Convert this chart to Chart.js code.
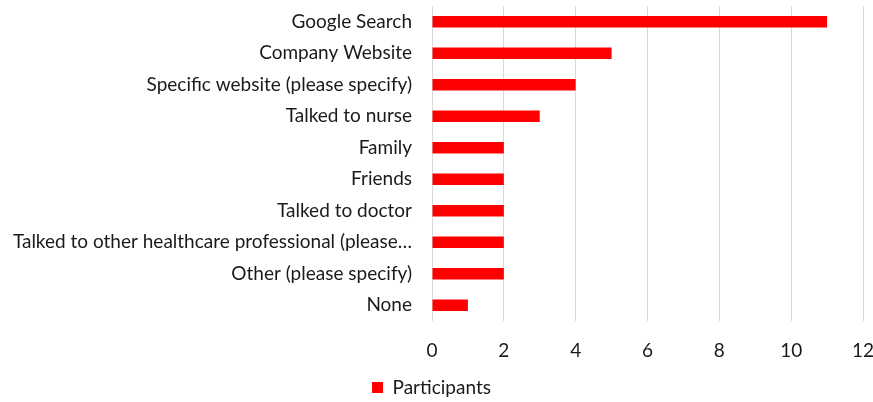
<!DOCTYPE html>
<html>
<head>
<meta charset="utf-8">
<script src="https://cdn.jsdelivr.net/npm/chart.js@4/dist/chart.umd.min.js"></script>
<style>
  html, body { margin: 0; padding: 0; background: #fff; }
  #wrap { width: 873px; height: 402px; position: relative; }
</style>
</head>
<body>
<div id="wrap"><canvas id="chart"></canvas></div>
<script>
const categories = [
    'Google Search',
    'Company Website',
    'Specific website (please specify)',
    'Talked to nurse',
    'Family',
    'Friends',
    'Talked to doctor',
    'Talked to other healthcare professional (please…',
    'Other (please specify)',
    'None'
];
const participants = [11, 5, 4, 3, 2, 2, 2, 2, 2, 1];
const seriesName = 'Participants';

const textColor = '#1a1a1a';
const fontFamily = 'Lato, "Open Sans", sans-serif';
const fontSize = 19;

const ctx = document.getElementById('chart').getContext('2d');

new Chart(ctx, {
    type: 'bar',
    data: {
        labels: categories,
        datasets: [{
            label: seriesName,
            data: participants,
            backgroundColor: '#ff0000',
            borderWidth: 0,
            barPercentage: 0.36,
            categoryPercentage: 1
        }]
    },
    options: {
        indexAxis: 'y',
        responsive: true,
        maintainAspectRatio: false,
        animation: false,
        // legend reserves 10px of blank space below itself, pull part of it off the canvas
        layout: { padding: { top: 6, right: 10, left: 0, bottom: -5 } },
        scales: {
            x: {
                min: 0,
                max: 12,
                ticks: {
                    stepSize: 2,
                    color: textColor,
                    font: { family: fontFamily, size: fontSize },
                    padding: 18
                },
                grid: {
                    color: '#d9d9d9',
                    lineWidth: 1,
                    drawTicks: false
                },
                border: { display: false },
                afterFit: (scale) => {
                    scale.height = 53;
                    scale.paddingLeft = 0;
                    scale.paddingRight = 0;
                }
            },
            y: {
                ticks: {
                    color: textColor,
                    font: { family: fontFamily, size: fontSize },
                    padding: 20,
                    autoSkip: false
                },
                grid: { display: false, drawTicks: false },
                border: { display: false },
                afterFit: (scale) => {
                    scale.width = 432;
                    scale.paddingTop = 0;
                    scale.paddingBottom = 0;
                }
            }
        },
        plugins: {
            legend: {
                position: 'bottom',
                labels: {
                    color: textColor,
                    font: { family: fontFamily, size: fontSize },
                    boxWidth: 11,
                    boxHeight: 11,
                    padding: 4
                }
            },
            tooltip: { enabled: false }
        }
    }
});
</script>
</body>
</html>
